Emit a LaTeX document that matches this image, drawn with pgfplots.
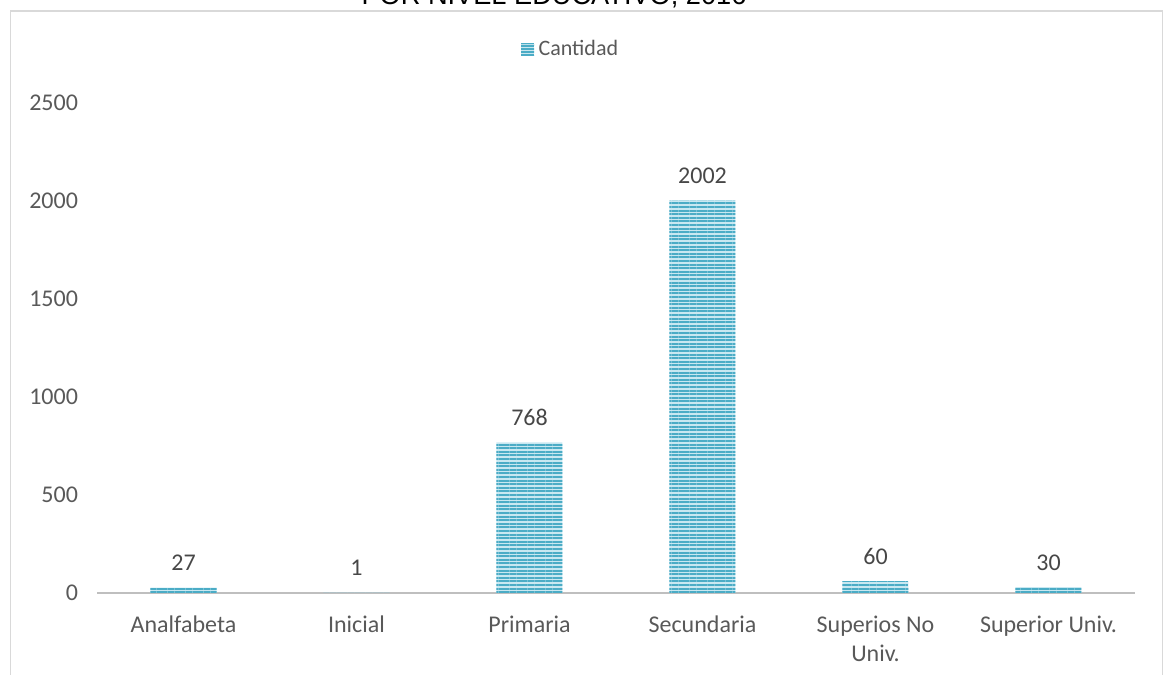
\documentclass[border=0pt]{standalone}
\usepackage{pgfplots}
\pgfplotsset{compat=1.18}
\usepackage{fontspec}
\setmainfont{Carlito}
\newfontfamily\arialf{Liberation Sans}
\usetikzlibrary{patterns.meta}
\definecolor{barblue}{HTML}{4BACC6}
\definecolor{barlight}{HTML}{C9E8F1}
\definecolor{txtgray}{HTML}{595959}
\definecolor{axgray}{HTML}{BFBFBF}
\definecolor{framegray}{HTML}{D9D9D9}
\begin{document}
\begin{tikzpicture}[x=0.5pt,y=0.5pt]
\useasboundingbox (0,0) rectangle (1168,675);
\clip (0,0) rectangle (1168,675);
\draw[framegray, line width=0.8pt] (10.5,-20) -- (10.5,664) -- (1162.5,664) -- (1162.5,-20);
\node[anchor=base, font=\arialf\fontsize{13.6}{16}\selectfont] at (554,670) {POR NIVEL EDUCATIVO, 2016};
\begin{axis}[
  at={(48.5pt,41pt)}, anchor=south west,
  scale only axis,
  width=519pt, height=245pt,
  xmin=-0.5, xmax=5.5,
  ymin=0, ymax=2500,
  ytick={0,500,1000,1500,2000,2500},
  xtick={0,1,2,3,4,5},
  xticklabels={Analfabeta,Inicial,Primaria,Secundaria,{Superios No\\Univ.},Superior Univ.},
  axis lines*=left,
  x axis line style={axgray, line width=1pt},
  y axis line style={draw=none},
  tick style={draw=none},
  major tick length=0pt,
  /pgf/number format/assume math mode=true,
  /pgf/number format/1000 sep={},
  ticklabel style={font=\fontsize{12}{14.5}\selectfont, text=txtgray},
  yticklabel style={xshift=-6pt},
  xticklabel style={align=center, yshift=-8pt},
  ybar,
  bar width=33pt,
  nodes near coords,
  every node near coord/.append style={font=\fontsize{12}{14}\selectfont, text=txtgray!80!black, anchor=base, inner sep=0pt, yshift=8.5pt},
  legend style={at={(0.457,1.11)}, anchor=center, draw=none, fill=none, font=\fontsize{11}{13}\selectfont, text=txtgray, inner sep=0pt},
  legend image code/.code={\fill[barblue] (0pt,-3.25pt) rectangle (6.5pt,3.25pt);
     \foreach \k in {-2.4,-0.8,0.8,2.4} {\draw[white!70!barblue, line width=0.5pt] (0pt,\k pt) -- (6.5pt,\k pt);}},
]
\addplot[draw=none, fill=barlight, postaction={pattern={Lines[angle=0, distance=1.8pt, line width=1pt]}, pattern color=barblue}]
  coordinates {(0,27) (1,1) (2,768) (3,2002) (4,60) (5,30)};
\addlegendentry{Cantidad}
\end{axis}
\end{tikzpicture}
\end{document}
